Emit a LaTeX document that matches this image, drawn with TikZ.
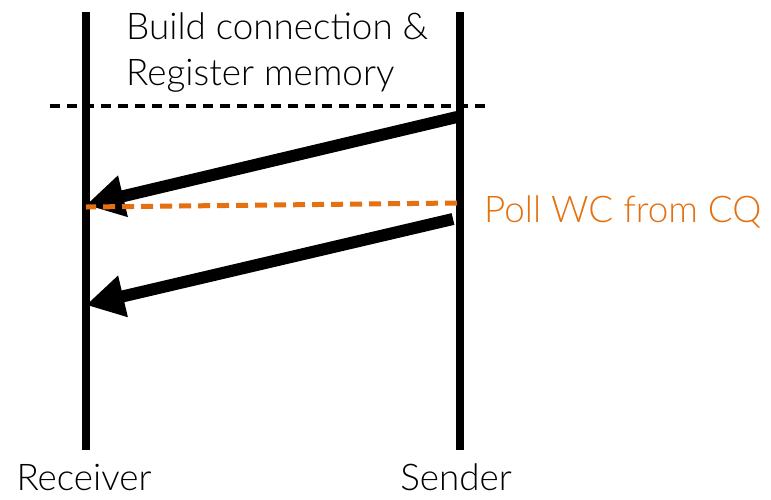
\documentclass[tikz,border=0pt]{standalone}
\usepackage{fontspec}
\setmainfont{Lato}[UprightFont=* Light]
\usetikzlibrary{arrows.meta}
\definecolor{pollorange}{HTML}{E5700F}
\begin{document}
\begin{tikzpicture}[x=1pt,y=-1pt,
  lifeline/.style={line width=7.5pt},
  msg/.style={line width=12pt,-{Triangle[length=38pt,width=40pt]}},
  phase/.style={line width=4pt,dash pattern=on 10pt off 7pt},
  poll/.style={line width=5pt,pollorange,dash pattern=on 12pt off 7pt},
  lbl/.style={inner sep=0pt,font=\fontsize{36.8}{46}\selectfont}]
  \useasboundingbox (0,0) rectangle (771,499);
  % lifelines
  \coordinate (rtop) at (86,12);
  \coordinate (rbot) at (86,450);
  \coordinate (stop) at (460,12);
  \coordinate (sbot) at (460,450);
  \draw[lifeline] (rtop) -- (rbot);
  \draw[lifeline] (stop) -- (sbot);
  % setup phase boundary
  \coordinate (pl) at (50,106);
  \coordinate (pr) at (485,106);
  \draw[phase] (pl) -- (pr);
  % messages
  \coordinate (m1s) at (457,117);
  \coordinate (m1e) at (86,205);
  \coordinate (m2s) at (453,219);
  \coordinate (m2e) at (86,305);
  \draw[msg] (m1s) -- (m1e);
  \draw[msg] (m2s) -- (m2e);
  % completion polling
  \coordinate (ps) at (457,203);
  \coordinate (pe) at (86,207);
  \draw[poll] (ps) -- (pe);
  % labels
  \node[lbl,anchor=base west,align=left] (setup) at (126,85) {Build connection \&\\Register memory};
  \node[lbl,anchor=base west,text=pollorange] (polltxt) at (484,222) {Poll WC from CQ};
  \node[lbl,anchor=base] (recv) at (84,490) {Receiver};
  \node[lbl,anchor=base] (send) at (456,490) {Sender};
\end{tikzpicture}
\end{document}
